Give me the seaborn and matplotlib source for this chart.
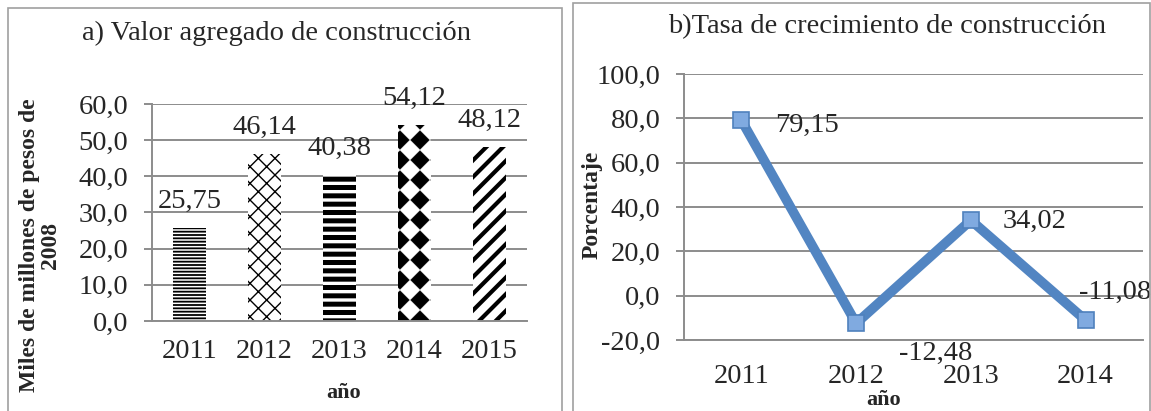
import numpy as np
import pandas as pd
import seaborn as sns
import matplotlib.pyplot as plt
import matplotlib.hatch as mhatch
from matplotlib.path import Path
from matplotlib.patches import Rectangle

plt.switch_backend("Agg")

# panel a) valor agregado
years_a = ["2011", "2012", "2013", "2014", "2015"]
valor = [25.75, 46.14, 40.38, 54.12, 48.12]
# panel b) tasa de crecimiento
years_b = ["2011", "2012", "2013", "2014"]
tasa = [79.15, -12.48, 34.02, -11.08]

hatches = ["-----", "xx", "--", "O", "//"]
hatch_lw = [1.3, 1.0, 3.6, 0.5, 3.0]
label_offsets = [(47, -4), (57, -22), (46, -1), (21, 20)]

GRID = "#8c8c8c"
BLUE = "#5285C2"
FS = 20.5
FS_BOLD = 17


class DiamondHatch(mhatch.HatchPatternBase):
    """black diamonds on a square grid (checkerboard turned 45 deg)"""

    def __init__(self, hatch, density):
        self.num_rows = hatch.count("O") * 5
        self.num_vertices = 5 * (self.num_rows + 1) ** 2 if self.num_rows else 0

    def set_vertices_and_codes(self, vertices, codes):
        n = self.num_rows
        r = 0.5 / n * 0.92
        shape = np.array([[-r, 0], [0, r], [r, 0], [0, -r], [-r, 0]])
        code = [Path.MOVETO, Path.LINETO, Path.LINETO, Path.LINETO, Path.CLOSEPOLY]
        parts = [shape + [i / n, j / n] for i in range(n + 1) for j in range(n + 1)]
        vertices[:] = np.concatenate(parts)
        codes[:] = np.tile(code, (n + 1) ** 2)


mhatch._hatch_types = [h for h in mhatch._hatch_types if h is not mhatch.LargeCircles]
mhatch._hatch_types.append(DiamondHatch)

sns.set_theme(style="white")
plt.rcParams["font.family"] = ["Liberation Serif", "DejaVu Serif"]
plt.rcParams["hatch.color"] = "black"

W, H = 1151, 411
fig = plt.figure(figsize=(W / 100, H / 100), dpi=100)
fig.patch.set_facecolor("white")


def frac(x0, y_top, x1, y_bot):
    return [x0 / W, 1 - y_bot / H, (x1 - x0) / W, (y_bot - y_top) / H]


# panel borders
fig.add_artist(Rectangle((8 / W, -0.02), 554 / W, 1 - 8 / H + 0.02, transform=fig.transFigure,
                         fill=False, edgecolor="#a0a0a0", lw=1.2))
fig.add_artist(Rectangle((573 / W, -0.02), 577 / W, 1 - 3 / H + 0.02, transform=fig.transFigure,
                         fill=False, edgecolor="#a0a0a0", lw=1.2))


def style_axes(ax, ncat):
    ax.set_facecolor("none")
    for s in ["top", "right"]:
        ax.spines[s].set_visible(False)
    for s in ["left", "bottom"]:
        ax.spines[s].set_color(GRID)
        ax.spines[s].set_linewidth(1.4)
    ax.yaxis.grid(True, color=GRID, lw=1.4)
    ax.xaxis.grid(False)
    ax.set_axisbelow(True)
    ax.set_xlim(-0.5, ncat - 0.5)
    ax.set_xticks(np.arange(-0.5, ncat), minor=True)
    ax.tick_params(axis="x", which="minor", length=6, width=1.4, color=GRID, direction="out")
    ax.tick_params(axis="y", which="major", left=True, length=6, width=1.4, color=GRID,
                   direction="out", labelsize=FS, pad=11)
    ax.set_xlabel("")
    ax.set_ylabel("")


# ---- a) bars
ax1 = fig.add_axes(frac(152, 104, 527, 321))
df_a = pd.DataFrame({"anio": years_a, "valor": valor})
sns.barplot(data=df_a, x="anio", y="valor", color="white", width=0.43, ax=ax1,
            saturation=1)
for bar, h, lw in zip(ax1.patches, hatches, hatch_lw):
    bar.set_facecolor("white")
    bar.set_edgecolor("black")
    bar.set_linewidth(0)
    bar.set_hatch(h)
    if hasattr(bar, "set_hatch_linewidth"):
        bar.set_hatch_linewidth(lw)
style_axes(ax1, len(years_a))
ax1.set_ylim(0, 60)
ax1.set_yticks(np.arange(0, 61, 10))
ax1.set_yticklabels([f"{v:.1f}".replace(".", ",") for v in np.arange(0, 61, 10)])
ax1.tick_params(axis="x", which="major", length=0, labelsize=FS, pad=13)
for i, v in enumerate(valor):
    ax1.annotate(f"{v:.2f}".replace(".", ","), (i, v), xytext=(0, 10), textcoords="offset points",
                 ha="center", va="bottom", fontsize=FS)

fig.text(276 / W, 1 - 33 / H, "a) Valor agregado de construcción", ha="center", va="center",
         fontsize=FS)
fig.text(40 / W, 1 - 245 / H, "Miles de millones de pesos de\n2008", rotation=90, ha="center",
         va="center", fontsize=FS_BOLD, fontweight="bold", linespacing=1.0)
fig.text(344 / W, 1 - 393 / H, "año", ha="center", va="center", fontsize=FS_BOLD - 1,
         fontweight="bold")

# ---- b) line
ax2 = fig.add_axes(frac(684, 74, 1143, 340))
df_b = pd.DataFrame({"anio": years_b, "tasa": tasa})
sns.lineplot(data=df_b, x="anio", y="tasa", sort=False, color=BLUE, lw=7, marker="s",
             markersize=11, markerfacecolor="#80AAE0", markeredgecolor="#4F81BD",
             markeredgewidth=1.2, ax=ax2)
style_axes(ax2, len(years_b))
ax2.set_ylim(-20, 100)
ax2.set_yticks(np.arange(-20, 101, 20))
ax2.set_yticklabels([f"{v:.1f}".replace(".", ",") for v in np.arange(-20, 101, 20)])
ax2.tick_params(axis="x", which="major", length=0, labelsize=FS, pad=17)
for i, (v, off) in enumerate(zip(tasa, label_offsets)):
    ax2.annotate(f"{v:.2f}".replace(".", ","), (i, v), xytext=off, textcoords="offset points",
                 ha="center", va="center", fontsize=FS)

fig.text(887 / W, 1 - 27 / H, "b)Tasa de crecimiento de construcción", ha="center", va="center",
         fontsize=FS)
fig.text(592 / W, 1 - 205 / H, "Porcentaje", rotation=90, ha="center", va="center",
         fontsize=FS_BOLD, fontweight="bold")
fig.text(884 / W, 1 - 400 / H, "año", ha="center", va="center", fontsize=FS_BOLD - 1,
         fontweight="bold")

fig.savefig("out.png", dpi=100)
